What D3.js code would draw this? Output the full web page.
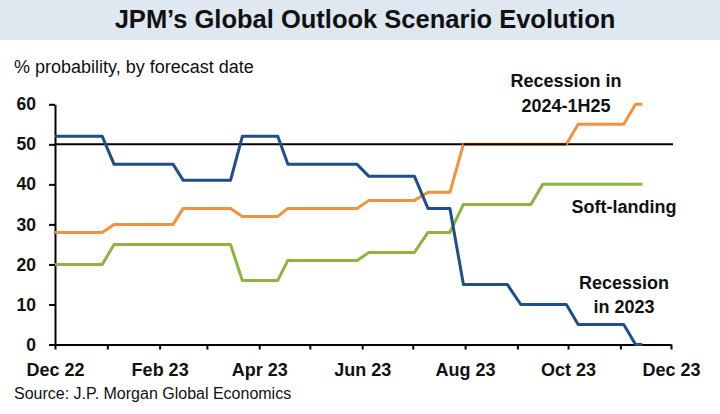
<!DOCTYPE html>
<html>
<head>
<meta charset="utf-8">
<script src="https://cdn.jsdelivr.net/npm/d3@7"></script>
<style>
  html, body { margin: 0; padding: 0; background: #fff; }
  svg { display: block; font-family: "Liberation Sans", Arial, sans-serif; }
</style>
</head>
<body>
<svg id="chart" width="720" height="414"></svg>
<script>
// ---- Data ----
const dates = ["2022-12-01","2022-12-29","2023-01-05","2023-02-09","2023-02-15","2023-03-15","2023-03-22",
  "2023-04-12","2023-04-18","2023-05-29","2023-06-05","2023-07-02","2023-07-10","2023-07-23","2023-07-31",
  "2023-08-26","2023-09-03","2023-09-09","2023-09-16","2023-09-30","2023-10-07","2023-11-03","2023-11-10","2023-11-14"];
const recession2023  = [52,52,45,45,41,41,52,52,45,45,42,42,34,34,15,15,10,10,10,10,5,5,0,0];
const recession2024  = [28,28,30,30,34,34,32,32,34,34,36,36,38,38,50,50,50,50,50,50,55,55,60,60];
const softLanding    = [20,20,25,25,25,25,16,16,21,21,23,23,28,28,35,35,35,35,40,40,40,40,40,40];
const yTicks = [0,10,20,30,40,50,60];
const xLabelMonths = ["2022-12-01","2023-02-01","2023-04-01","2023-06-01","2023-08-01","2023-10-01","2023-12-01"];
const title = "JPM\u2019s Global Outlook Scenario Evolution";
const subtitle = "% probability, by forecast date";
const source = "Source: J.P. Morgan Global Economics";
const threshold = 50;

// ---- Setup ----
const svg = d3.select("#chart");
const parse = d3.utcParse("%Y-%m-%d");
const fmt = d3.utcFormat("%b %y");
const D = dates.map(parse);

const x = d3.scaleUtc().domain([parse("2022-12-01"), parse("2023-12-01")]).range([55, 671]);
const y = d3.scaleLinear().domain([0, 60]).range([344.5, 104.3]);

// Title band
svg.append("rect").attr("x", 0).attr("y", 0).attr("width", 720).attr("height", 40).attr("fill", "#dfe7f1");
svg.append("text").attr("x", 365).attr("y", 28).attr("text-anchor", "middle")
  .attr("font-size", 25.5).attr("font-weight", "bold").attr("fill", "#111").text(title);

svg.append("text").attr("x", 14).attr("y", 73).attr("font-size", 18).attr("fill", "#111").text(subtitle);
svg.append("text").attr("x", 14).attr("y", 399).attr("font-size", 16).attr("fill", "#111").text(source);

// Axes
const yAxis = d3.axisLeft(y).tickValues(yTicks).tickSize(6).tickPadding(13).tickSizeOuter(0);
const gy = svg.append("g").attr("transform", `translate(${x.range()[0]},0)`).call(yAxis);
gy.select(".domain").attr("stroke", "#000").attr("stroke-width", 2);
gy.selectAll(".tick line").attr("stroke", "#000").attr("stroke-width", 2);
gy.selectAll(".tick text").attr("font-size", 17.5).attr("font-weight", "bold").attr("fill", "#111")
  .attr("font-family", "Liberation Sans, Arial, sans-serif");

const labelSet = new Set(xLabelMonths);
const xAxis = d3.axisBottom(x).ticks(d3.utcMonth.every(1)).tickSize(5).tickPadding(14).tickSizeOuter(0)
  .tickFormat(d => labelSet.has(d3.utcFormat("%Y-%m-%d")(d)) ? fmt(d) : "");
const gx = svg.append("g").attr("transform", `translate(0,${y(0)})`).call(xAxis);
gx.select(".domain").attr("stroke", "#000").attr("stroke-width", 2);
gx.selectAll(".tick line").attr("stroke", "#000").attr("stroke-width", 2);
gx.selectAll(".tick text").attr("font-size", 18).attr("font-weight", "bold").attr("fill", "#111")
  .attr("font-family", "Liberation Sans, Arial, sans-serif");

// Threshold line
svg.append("line").attr("x1", x.range()[0]).attr("x2", 673)
  .attr("y1", y(threshold)).attr("y2", y(threshold))
  .attr("stroke", "#000").attr("stroke-width", 2);

// Lines
const line = d3.line().x((d, i) => x(D[i])).y(d => y(d));
const series = [
  { values: recession2024, color: "#f5913d" },
  { values: softLanding, color: "#8db441" },
  { values: recession2023, color: "#1f4e89" }
];
series.forEach(s => {
  svg.append("path").datum(s.values).attr("d", line)
    .attr("fill", "none").attr("stroke", s.color).attr("stroke-width", 3)
    .attr("stroke-linejoin", "round");
});

// Threshold drawn over orange where it overlaps
svg.append("line").attr("x1", x(parse("2023-07-31"))).attr("x2", x(parse("2023-09-30")))
  .attr("y1", y(threshold)).attr("y2", y(threshold))
  .attr("stroke", "#000").attr("stroke-width", 2);

// Annotations
const ann = [
  { lines: ["Recession in", "2024-1H25"], cx: 566, y0: 87, dy: 25 },
  { lines: ["Soft-landing"], cx: 624, y0: 213, dy: 0 },
  { lines: ["Recession", "in 2023"], cx: 624, y0: 289, dy: 24 }
];
ann.forEach(a => {
  a.lines.forEach((t, i) => {
    svg.append("text").attr("x", a.cx).attr("y", a.y0 + i * a.dy).attr("text-anchor", "middle")
      .attr("font-size", 18).attr("font-weight", "bold").attr("fill", "#111").text(t);
  });
});
</script>
</body>
</html>
